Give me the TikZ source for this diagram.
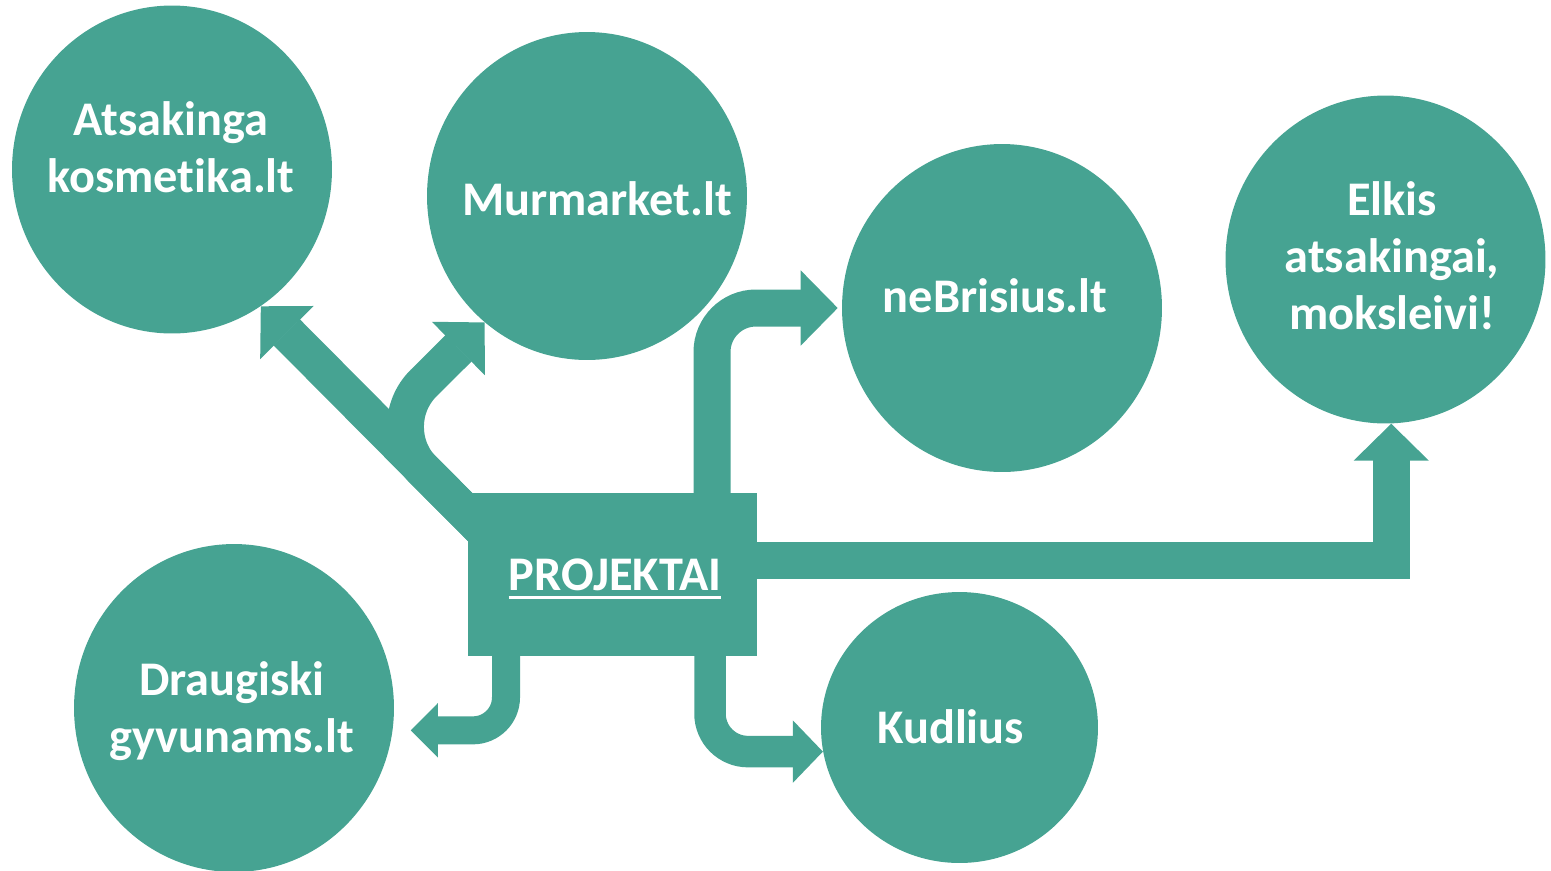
\documentclass[tikz,border=0pt]{standalone}
\usepackage{fontspec}
\setmainfont{Carlito}[Ligatures = CommonOff]
\usetikzlibrary{arrows.meta, shapes.geometric, positioning, calc}
\pgfdeclarelayer{bg1}
\pgfsetlayers{bg1,main}
\definecolor{projteal}{RGB}{70,163,146}
\newcommand{\ulword}[1]{\setbox0\hbox{#1}\rlap{\rule[-5.1pt]{\wd0}{1.7pt}}\box0}
\tikzset{
	font = {\bfseries\fontsize{27.5pt}{32.4pt}\selectfont},
	bubble/.style = {ellipse, fill = projteal, minimum width = 6.4cm, minimum height = 6.56cm, inner sep = 0pt},
	hub/.style = {rectangle, fill = projteal, minimum width = 5.78cm, minimum height = 3.26cm, inner sep = 0pt},
	txt/.style = {text = white, align = center, inner sep = 0pt},
	arrow/.style = {draw = projteal, line width = 0.74cm, -{Triangle[length = 0.74cm, width = 1.5cm, line width = 1pt]}},
	arrow-mid/.style = {draw = projteal, line width = 0.63cm, -{Triangle[length = 0.6cm, width = 1.24cm, line width = 1pt]}},
	arrow-small/.style = {draw = projteal, line width = 0.56cm, -{Triangle[length = 0.54cm, width = 1.08cm, line width = 1pt]}}
}

\begin{document}
\begin{tikzpicture}[x = 0.02cm, y = -0.02cm]
	\useasboundingbox (0,0) rectangle (1551,870);
	
	%%%%%%%% bubbles %%%%%%%%
	\node (kosm) [bubble] at (172,169.5) {};
	\node (mur) [bubble] at (587,196) {};
	\node (nebr) [bubble] at (1002,308) {};
	\node (elk) [bubble] at (1385.5,259.5) {};
	\node (drau) [bubble] at (234,708) {};
	\node (kudl) [bubble, minimum width = 5.54cm, minimum height = 5.42cm] at (959.5,727.5) {};
	
	% centre box
	\node (proj) [hub] at (612.5,574.5) {};
	
	%%% arrows %%%
	\begin{pgfonlayer}{bg1}
	\draw [arrow] ($(proj.north west)+(32,54)$) -- (kosm.-57);
	\draw [arrow, rounded corners = 1.24cm] ($(proj.north west)+(32,54)$) -- ($(proj.north west)+(-88,-66)$) -- (mur.231);
	\draw [arrow, rounded corners = 0.88cm, shorten > = 0.08cm] ($(proj.north)+(99.5,20)$) |- (nebr.west);
	\draw [arrow] ($(proj.east)+(-20,-14)$) -| (elk.-88);
	\draw [arrow-small, rounded corners = 0.66cm, shorten > = 0.36cm] ($(proj.south)+(-106.5,-20)$) |- (drau.-8.5);
	\draw [arrow-mid, rounded corners = 0.76cm] ($(proj.south)+(97.5,-20)$) |- (kudl.190);
	\end{pgfonlayer}
	
	%% texts
	\node (kosm-txt) [txt, xshift = -0.02cm, yshift = 0.45cm] at (kosm) {Atsakinga\\kosmetika.lt};
	\node (mur-txt) [txt, xshift = 0.2cm, yshift = -0.05cm] at (mur) {Murmarket.lt};
	\node (nebr-txt) [txt, xshift = -0.14cm, yshift = 0.25cm] at (nebr) {neBrisius.lt};
	\node (elk-txt) [txt, xshift = 0.13cm, yshift = 0.07cm] at (elk) {Elkis\\atsakingai,\\moksleivi!};
	\node (drau-txt) [txt, xshift = -0.04cm, yshift = -0.07cm] at (drau) {Draugiski\\gyvunams.lt};
	\node (kudl-txt) [txt, xshift = -0.18cm, yshift = 0.02cm] at (kudl) {Kudlius};
	\node (proj-txt) [txt, anchor = base, xshift = 0.05cm, yshift = -0.31cm] at (proj) {\ulword{PROJEKTAI}};
\end{tikzpicture}
\end{document}
